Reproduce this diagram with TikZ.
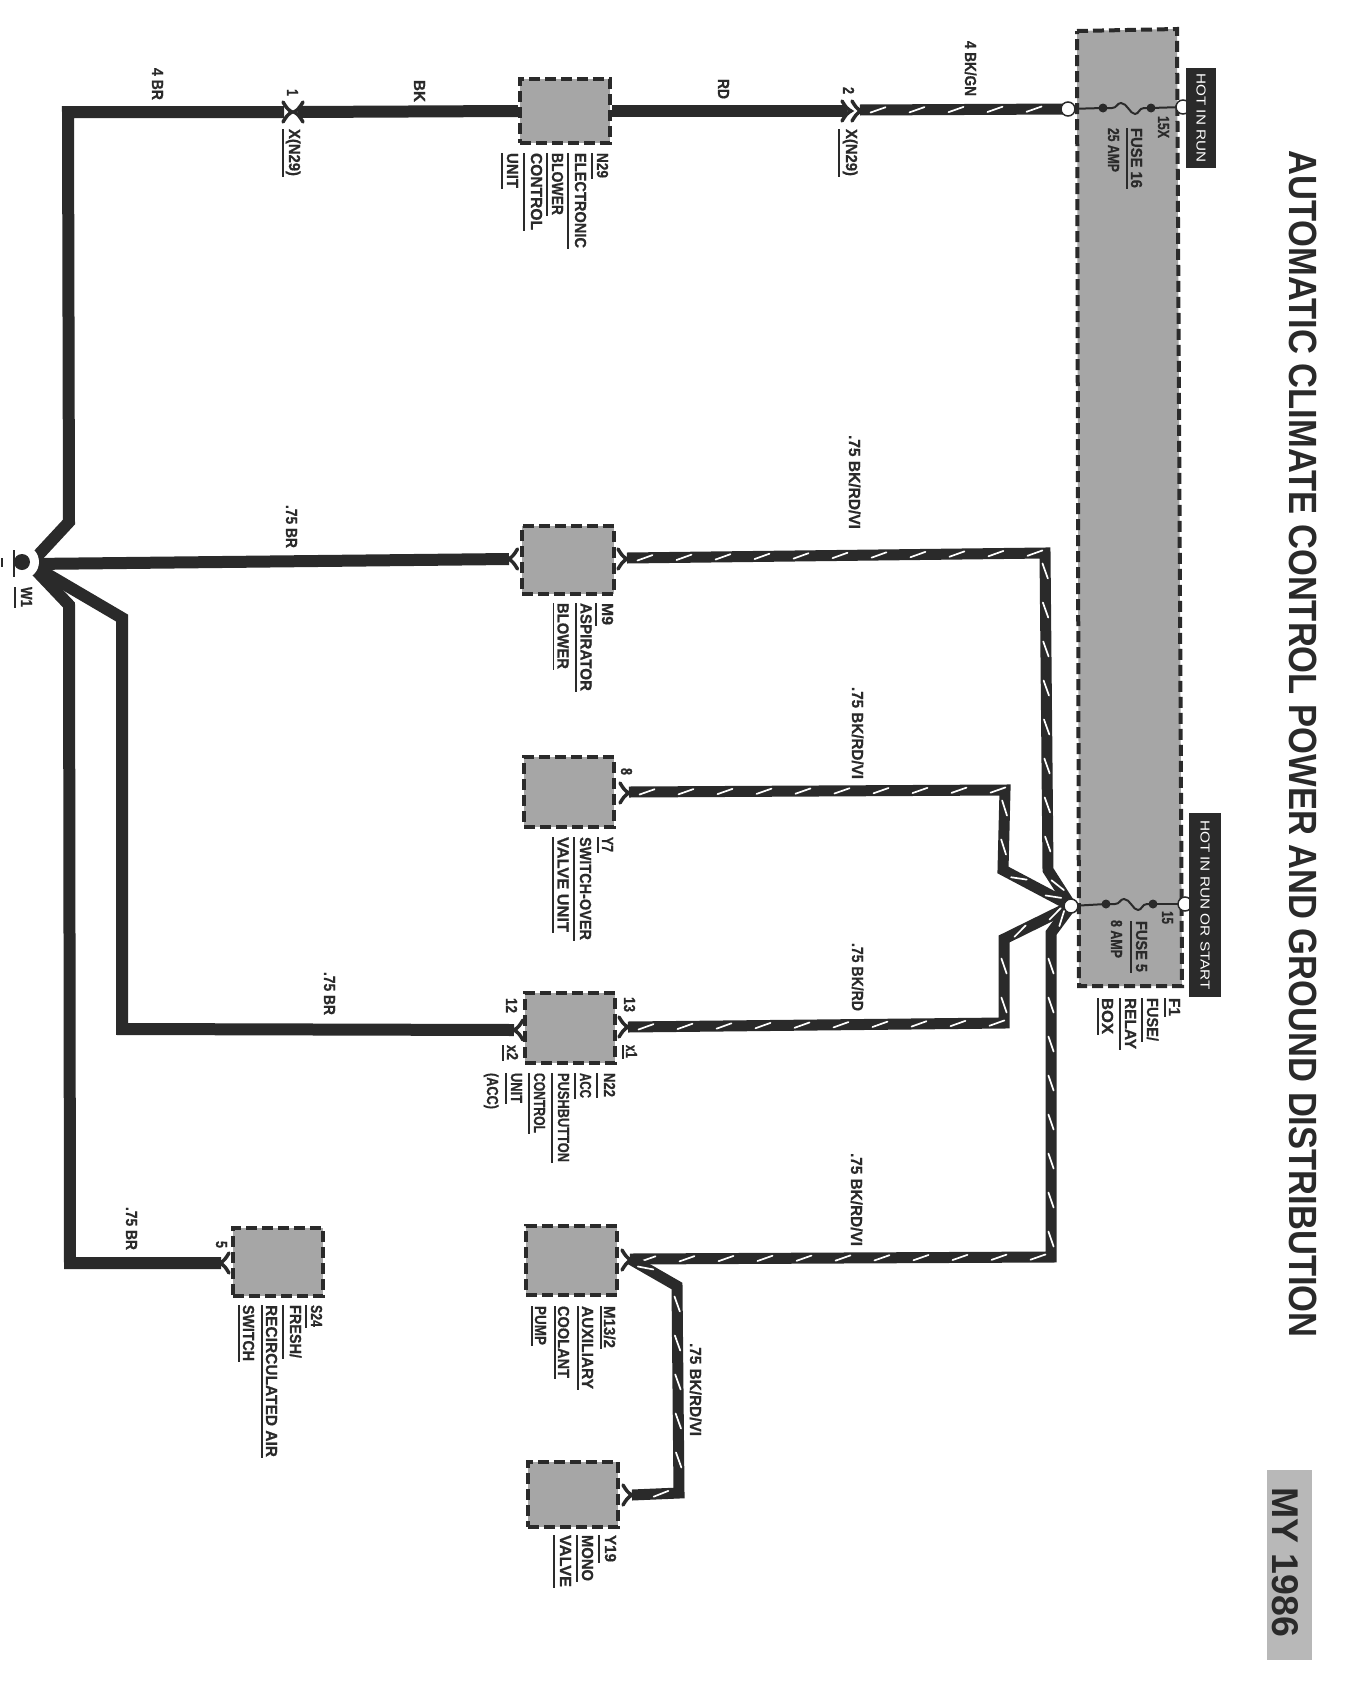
\documentclass[tikz,border=0pt]{standalone}
\usepackage{fontspec}
\setmainfont{Liberation Sans}
\newfontfamily\heavy{Liberation Sans}[BoldFeatures={FakeBold=0.7}]
\usetikzlibrary{decorations.markings}
\definecolor{ink}{HTML}{2A2A2A}
\definecolor{shade}{HTML}{A6A6A6}
\definecolor{shadelt}{HTML}{B8B8B8}
\tikzset{
  wire/.style={draw=ink,line width=11pt,line join=miter},
  gwire/.style={draw=ink,line width=12pt,line join=miter},
  thinwire/.style={draw=ink,line width=2pt},
  slashes/.style={postaction={decorate},decoration={markings,
    mark=between positions 18pt and -6pt step 39pt with
    {\draw[white,line width=1.7pt,line cap=round] (-7.5pt,-2.6pt)--(7.5pt,2.6pt);}}},
  unitbox/.style={draw=ink,fill=shade,line width=4pt,dash pattern=on 11pt off 5pt},
  rulel/.style={draw=ink,line width=1.6pt},
  lbltext/.style={rotate=-90,anchor=west,inner sep=0pt,outer sep=0pt,text=ink,text height=12pt,text depth=0pt},
  sockline/.style={draw=ink,line width=3.5pt,line cap=round},
  ringw/.style={circle,draw=ink,fill=white,line width=1.5pt,minimum size=14pt,inner sep=0pt},
  dotb/.style={circle,fill=ink,minimum size=9pt,inner sep=0pt},
  hotbox/.style={fill=ink,rotate=-90,inner sep=0pt,text=white,font=\fontsize{13}{13}\selectfont},
  sock/.pic={\draw[sockline] (0,-10) .. controls (3,-5) and (5,-2) .. (9,0) .. controls (5,2) and (3,5) .. (0,10);},
  fusecurve/.pic={\draw[thinwire] (-24,0) -- (-15,0) .. controls (-10,0) and (-10,-5) .. (-6,-5) .. controls (0,-5) and (3,6) .. (8,6) .. controls (12,6) and (12,0) .. (17,0) -- (24,0);},
}
% name, text x, rule x, y start, text length, text
\newcommand{\lbl}[6]{\node[lbltext] (#1) at (#2,#4) {\resizebox{#5pt}{\height}{\fontsize{16}{16}\selectfont\heavy\bfseries #6}};
  \draw[rulel] (#3,#4) -- ++(0,#5+1);}
% name, x, y start, text length, text
\newcommand{\txt}[5]{\node[lbltext] (#1) at (#2,#3) {\resizebox{#4pt}{\height}{\fontsize{16}{16}\selectfont\heavy\bfseries #5}};}
\begin{document}
\begin{tikzpicture}[x=1pt,y=-1pt]
\useasboundingbox (0,0) rectangle (1353,1681);
% title and year
\node[rotate=-90,anchor=west,inner sep=0pt,text=ink] (title) at (1303.5,150) {\resizebox{1187pt}{27.5pt}{\bfseries AUTOMATIC CLIMATE CONTROL POWER AND GROUND DISTRIBUTION}};
\fill[shadelt] (1267,1470) rectangle (1312,1660);
\node[rotate=-90,anchor=west,inner sep=0pt,text=ink] (year) at (1285,1487) {\resizebox{150pt}{26pt}{\bfseries MY 1986}};
% fuse box
\path[unitbox] (1077,31) -- (1177,29) -- (1182,986) -- (1079,986) -- cycle;
% unit boxes
\node[unitbox,minimum width=90pt,minimum height=64pt] (n29) at (565,111) {};
\node[unitbox,minimum width=92pt,minimum height=68pt] (m9) at (568,560) {};
\node[unitbox,minimum width=90pt,minimum height=70pt] (y7) at (569,792) {};
\node[unitbox,minimum width=90pt,minimum height=70pt] (n22) at (570,1028) {};
\node[unitbox,minimum width=91pt,minimum height=69pt] (m13) at (571.5,1260.5) {};
\node[unitbox,minimum width=90pt,minimum height=65pt] (y19) at (573,1494.5) {};
\node[unitbox,minimum width=90pt,minimum height=68pt] (s24) at (278,1262) {};
% junction points
\coordinate (g) at (30,564);
\coordinate (gA) at (69,522);
\coordinate (gB) at (68,112);
\coordinate (c1a) at (284,112);
\coordinate (c1b) at (298,112);
\coordinate (c2a) at (847,111);
\coordinate (c2b) at (860,110);
\coordinate (gC) at (122,618);
\coordinate (gD) at (122,1029);
\coordinate (gE) at (69,605);
\coordinate (gF) at (70,1263);
\coordinate (s24w) at (221,1263);
\coordinate (m9l) at (509,559);
\coordinate (n22l) at (514,1030);
\coordinate (m9r) at (627,558);
\coordinate (m9c) at (1045,553);
\coordinate (m9d) at (1048,870);
\coordinate (y7r) at (629,792);
\coordinate (y7c) at (1005,790);
\coordinate (y7d) at (1003,870);
\coordinate (n22r) at (628,1027);
\coordinate (n22c) at (1004,1023);
\coordinate (n22d) at (1004,939);
\coordinate (m13r) at (630,1259);
\coordinate (m13c) at (1051,1257);
\coordinate (m13d) at (1051,933);
\coordinate (y19a) at (677,1286);
\coordinate (y19b) at (679,1493);
\coordinate (y19r) at (632,1495);
\coordinate (topL) at (1068,109);
\coordinate (jn) at (1071,906);
% ground wires
\draw[gwire] (g) -- (gA) -- (gB) -- (c1a);
\draw[gwire] (g) -- (m9l);
\draw[gwire] (g) -- (gC) -- (gD) -- (n22l);
\draw[gwire] (g) -- (gE) -- (gF) -- (s24w);
% N29 feed
\draw[gwire] (c1b) -- (n29.west);
\draw[gwire] (n29.east) -- (c2a);
\draw[wire] (c2b) -- (topL);
\path[slashes] (c2b) -- (topL);
% striped branches
\draw[wire] (m9r) -- (m9c) -- (m9d) -- (jn);
\path[slashes] (m9r) -- (m9c);
\path[slashes] (m9c) -- (m9d);
\path[slashes] (m9d) -- (jn);
\draw[wire] (y7r) -- (y7c) -- (y7d) -- (jn);
\path[slashes] (y7r) -- (y7c);
\path[slashes] (y7c) -- (y7d);
\path[slashes] (y7d) -- (jn);
\draw[wire] (n22r) -- (n22c) -- (n22d) -- (jn);
\path[slashes] (n22r) -- (n22c);
\path[slashes] (n22c) -- (n22d);
\path[slashes] (n22d) -- (jn);
\draw[wire] (m13r) -- (m13c) -- (m13d) -- (jn);
\path[slashes] (m13r) -- (m13c);
\path[slashes] (m13c) -- (m13d);
\path[slashes] (m13d) -- (jn);
\draw[wire] (m13r) -- (y19a) -- (y19b) -- (y19r);
\path[slashes] (m13r) -- (y19a);
\path[slashes] (y19a) -- (y19b);
\path[slashes] (y19b) -- (y19r);
% sockets
\pic at (618,559) {sock};
\pic[xscale=-1] at (517.5,559) {sock};
\pic at (620,793) {sock};
\pic at (619,1027) {sock};
\pic[xscale=-1] at (523,1030) {sock};
\pic at (622,1260) {sock};
\pic at (623,1495) {sock};
\pic[xscale=-1] at (229,1263) {sock};
% inline connectors
\pic at (283,112) {sock};
\pic[xscale=-1] at (303,112) {sock};
\pic at (842,111) {sock};
\pic at (852,111) {sock};
% ground symbol
\fill[white] (22,562) circle (17pt);
\node[circle,fill=ink,minimum size=16pt,inner sep=0pt] (gnd) at (22,562) {};
\draw[ink,line width=2.4pt] (14,550) -- (14,577);
\draw[ink,line width=2.4pt] (2,558) -- (2,567);
% fuses
\draw[thinwire] (topL) -- (1103,108);
\draw[thinwire] (1151,108) -- (1183,107);
\pic at (1127,108) {fusecurve};
\node[dotb] (f16a) at (1103,108) {};
\node[dotb] (f16b) at (1151,108) {};
\node[ringw] (ringT) at (topL) {};
\node[ringw] (ringH) at (1183,107) {};
\draw[thinwire] (jn) -- (1106,904);
\draw[thinwire] (1153,904) -- (1185,904);
\pic at (1130,904) {fusecurve};
\node[dotb] (f5a) at (1106,904) {};
\node[dotb] (f5b) at (1153,904) {};
\node[ringw] (ringJ) at (jn) {};
\node[ringw] (ringS) at (1185,904) {};
% hot boxes
\node[hotbox,minimum width=100pt,minimum height=30pt] (hot1) at (1201,118) {\resizebox{89pt}{\height}{HOT IN RUN}};
\node[hotbox,minimum width=184pt,minimum height=32pt] (hot2) at (1205,905) {\resizebox{170pt}{\height}{HOT IN RUN OR START}};
% fuse box texts
\lbl{fuse16}{1137}{1127}{128}{60}{FUSE 16}
\txt{amp25}{1114}{128}{44}{25 AMP}
\txt{t15x}{1164}{116}{22}{15X}
\lbl{fuse5}{1142}{1131}{921}{51}{FUSE 5}
\txt{amp8}{1117}{920}{38}{8 AMP}
\txt{t15}{1168}{911}{13}{15}
\lbl{f1a}{1175}{1165}{998}{18}{F1}
\lbl{f1b}{1153}{1142}{998}{43}{FUSE/}
\lbl{f1c}{1131}{1120}{998}{51}{RELAY}
\lbl{f1d}{1108}{1098}{998}{36}{BOX}
% unit labels
\lbl{n29a}{603}{592}{153}{25}{N29}
\lbl{n29b}{581}{568}{153}{95}{ELECTRONIC}
\lbl{n29c}{558}{547}{153}{62}{BLOWER}
\lbl{n29d}{537}{524}{153}{77}{CONTROL}
\lbl{n29e}{513}{502}{153}{35}{UNIT}
\lbl{m9a}{608}{596}{603}{22}{M9}
\lbl{m9b}{586.5}{576}{603}{88}{ASPIRATOR}
\lbl{m9c}{563.5}{553.5}{603}{66}{BLOWER}
\lbl{y7a}{608}{598}{837}{15}{Y7}
\lbl{y7b}{586}{574}{837}{103}{SWITCH-OVER}
\lbl{y7c}{563.5}{553}{837}{95}{VALVE UNIT}
\lbl{n22a}{610}{597}{1073}{24}{N22}
\lbl{n22b}{586}{575}{1073}{25}{ACC}
\lbl{n22c}{564}{552}{1073}{89}{PUSHBUTTON}
\lbl{n22d}{540}{529}{1073}{60}{CONTROL}
\lbl{n22e}{517}{506}{1073}{30}{UNIT}
\txt{n22f}{493}{1073}{36}{(ACC)}
\lbl{m13a}{610}{601}{1306}{42}{M13/2}
\lbl{m13b}{588}{578}{1306}{83}{AUXILIARY}
\lbl{m13c}{564}{555}{1306}{72}{COOLANT}
\lbl{m13d}{541}{532}{1306}{39}{PUMP}
\lbl{y19a}{611}{599}{1535}{27}{Y19}
\lbl{y19b}{588}{577}{1535}{46}{MONO}
\lbl{y19c}{566}{554}{1535}{52}{VALVE}
\lbl{s24a}{317}{306}{1305}{22}{S24}
\lbl{s24b}{296}{283}{1305}{53}{FRESH/}
\lbl{s24c}{272}{262}{1305}{152}{RECIRCULATED AIR}
\lbl{s24d}{249}{239}{1305}{56}{SWITCH}
\lbl{w1t}{27}{15}{587}{20}{W1}
% connector labels
\lbl{x1t}{632}{623}{1045}{13}{x1}
\lbl{x2t}{513}{503}{1045}{15}{x2}
\lbl{xa}{295}{283}{129}{47}{X(N29)}
\lbl{xb}{852}{839}{129}{47}{X(N29)}
\txt{p1}{293}{89}{7}{1}
\txt{p2}{849}{87}{7}{2}
\txt{p8}{627}{768}{7}{8}
\txt{p5}{222}{1241}{7}{5}
\txt{p13}{630}{997}{15}{13}
\txt{p12}{512}{998}{15}{12}
% wire labels
\txt{wa}{158}{68}{32}{4 BR}
\txt{wb}{420}{80}{22}{BK}
\txt{wc}{724}{79}{20}{RD}
\txt{wd}{971}{41}{55}{4 BK/GN}
\txt{we}{855}{435}{94}{.75 BK/RD/VI}
\txt{wf}{858}{687}{92}{.75 BK/RD/VI}
\txt{wg}{858}{943}{68}{.75 BK/RD}
\txt{wh}{857}{1153}{93}{.75 BK/RD/VI}
\txt{wi}{696}{1343}{93}{.75 BK/RD/VI}
\txt{wj}{292}{505}{43}{.75 BR}
\txt{wk}{330}{972}{43}{.75 BR}
\txt{wl}{132}{1207}{43}{.75 BR}
\end{tikzpicture}
\end{document}
